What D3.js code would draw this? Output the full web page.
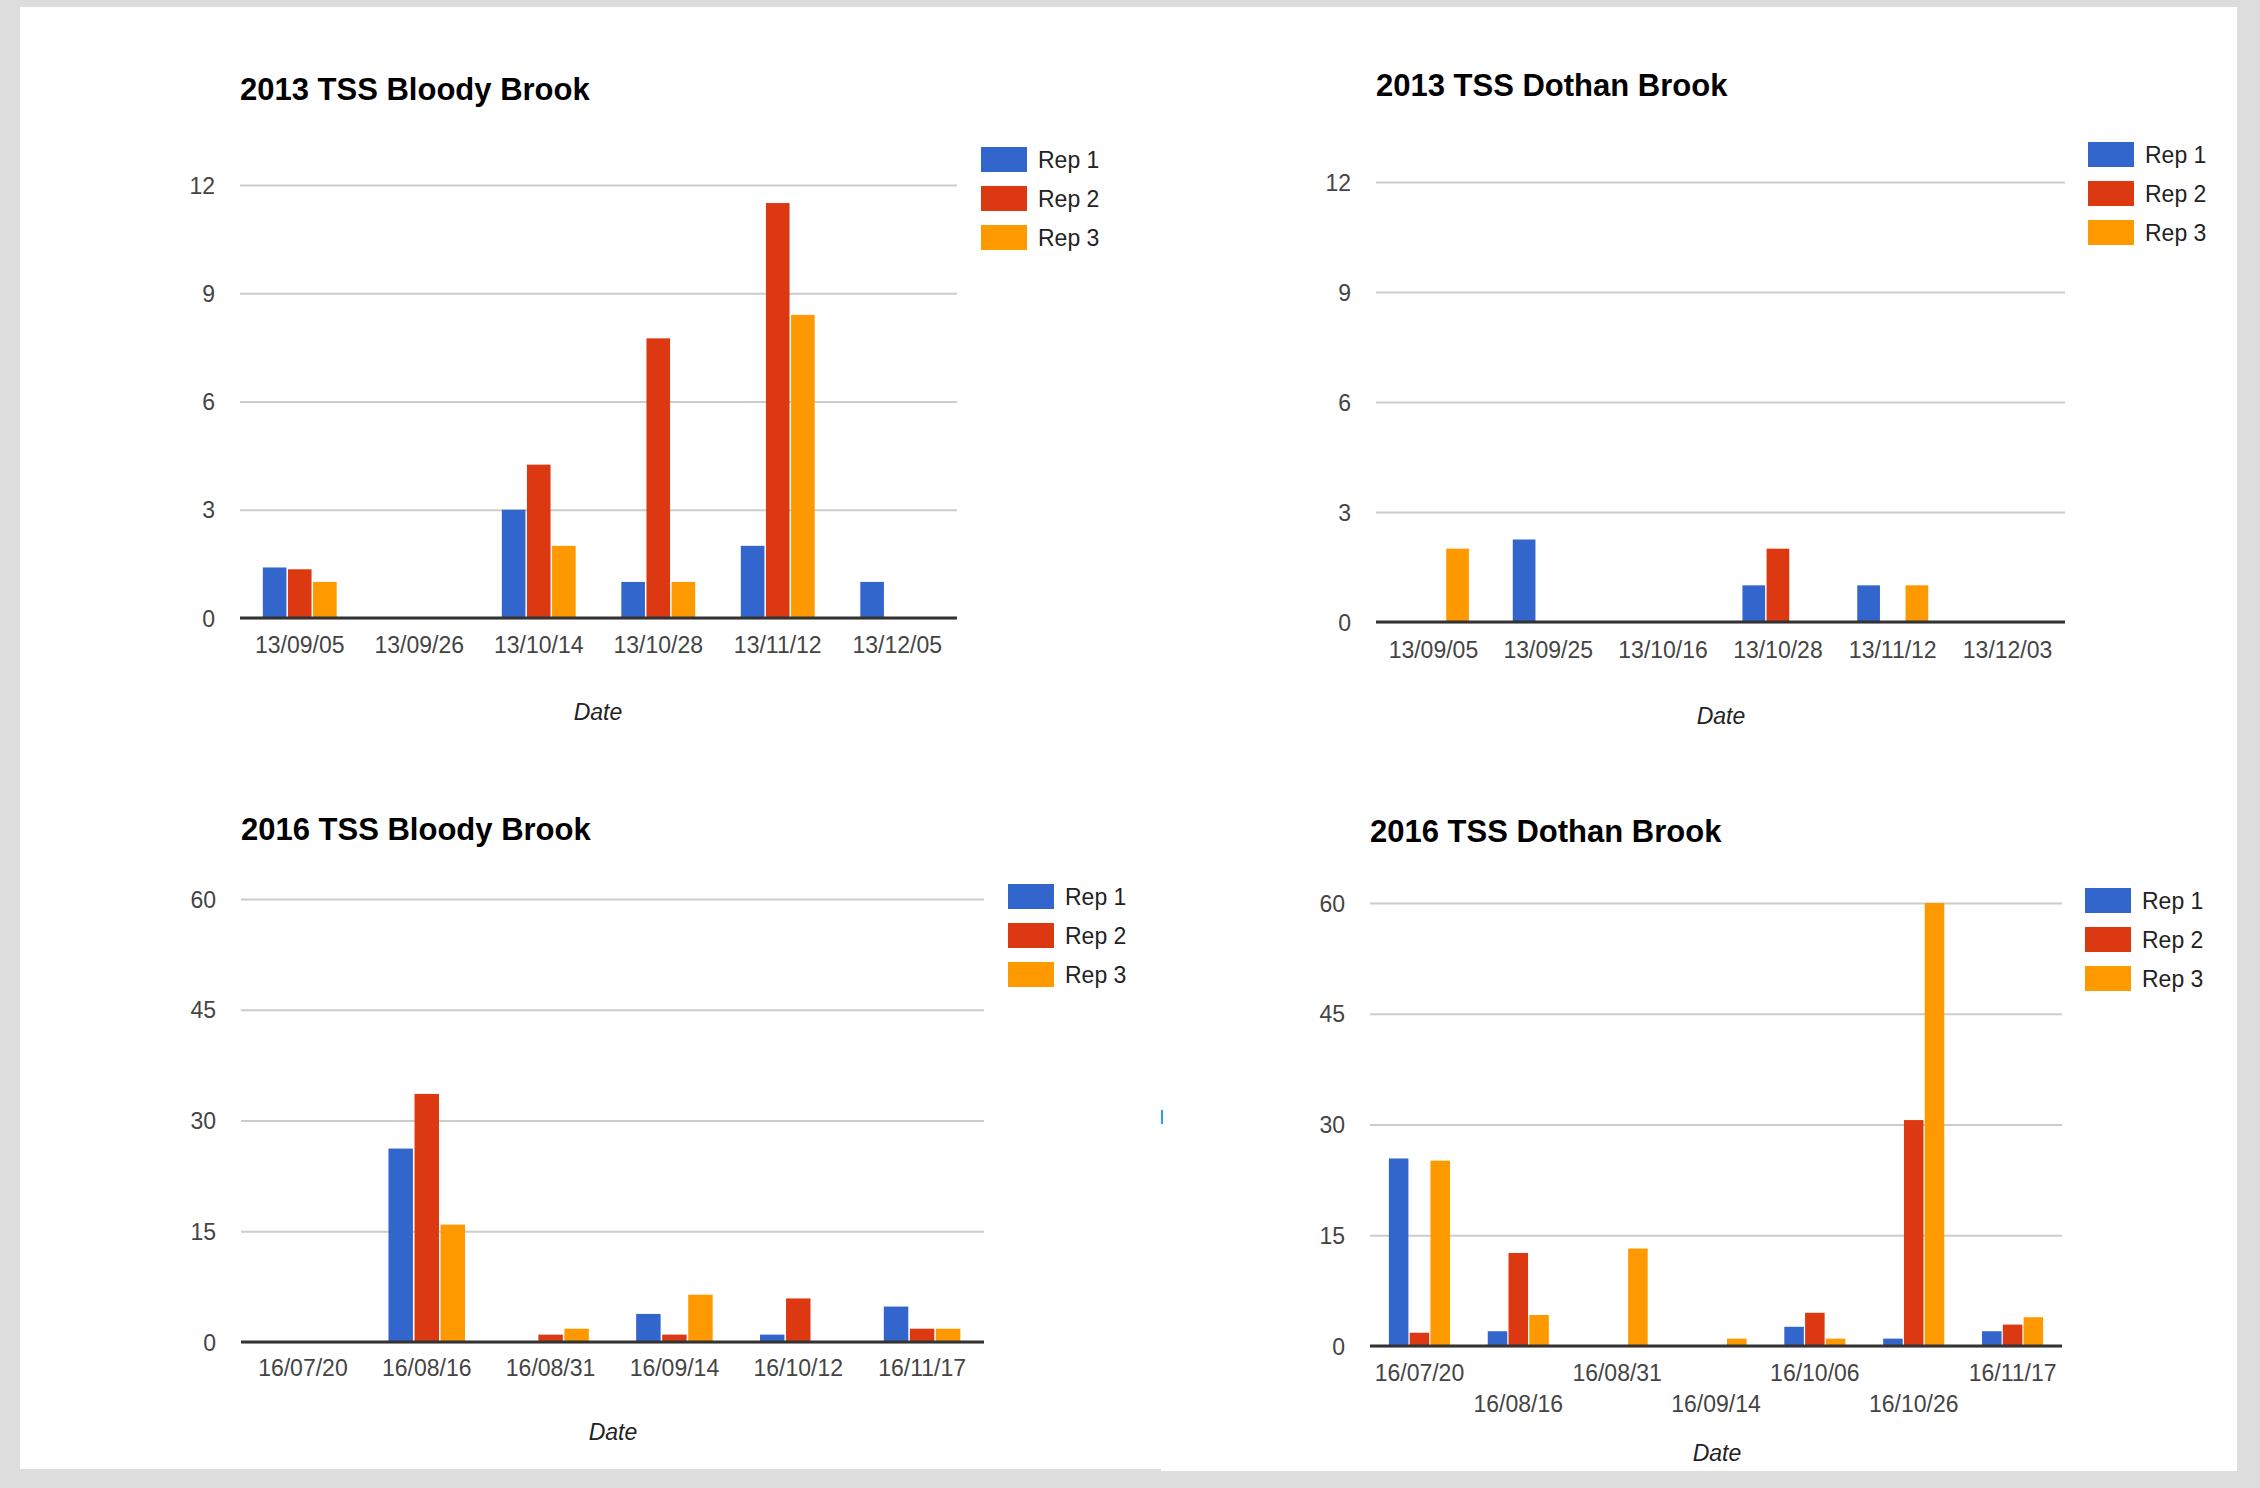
<!DOCTYPE html>
<meta charset="utf-8">
<style>
    body { margin: 0; background: #dddddd; }
    text { font-family: Arial, "Liberation Sans", sans-serif; }
    .title { font-size: 31px; font-weight: bold; fill: #000; }
    .tick text { font-size: 23px; fill: #444; }
    .legend text { font-size: 23px; fill: #222; }
    .axis-title { font-size: 23px; font-style: italic; fill: #222; }
</style>

<svg width="2260" height="1488"></svg>

<script src="https://d3js.org/d3.v7.min.js"></script>

<script>
    var repNames = ["Rep 1", "Rep 2", "Rep 3"];
    var repColors = ["#3366cc", "#dc3912", "#ff9900"];

    // 2013 Bloody Brook
    var bloody2013Dates = ["13/09/05", "13/09/26", "13/10/14", "13/10/28", "13/11/12", "13/12/05"];
    var bloody2013Rep1 = [1.4, null, 3.0, 1.0, 2.0, 1.0];
    var bloody2013Rep2 = [1.35, null, 4.25, 7.75, 11.5, null];
    var bloody2013Rep3 = [1.0, null, 2.0, 1.0, 8.4, null];

    // 2013 Dothan Brook
    var dothan2013Dates = ["13/09/05", "13/09/25", "13/10/16", "13/10/28", "13/11/12", "13/12/03"];
    var dothan2013Rep1 = [null, 2.25, null, 1.0, 1.0, null];
    var dothan2013Rep2 = [null, null, null, 2.0, null, null];
    var dothan2013Rep3 = [2.0, null, null, null, 1.0, null];

    // 2016 Bloody Brook
    var bloody2016Dates = ["16/07/20", "16/08/16", "16/08/31", "16/09/14", "16/10/12", "16/11/17"];
    var bloody2016Rep1 = [null, 26.2, null, 3.8, 1.0, 4.8];
    var bloody2016Rep2 = [null, 33.6, 1.0, 1.0, 5.9, 1.8];
    var bloody2016Rep3 = [null, 15.9, 1.8, 6.4, null, 1.8];

    // 2016 Dothan Brook
    var dothan2016Dates = ["16/07/20", "16/08/16", "16/08/31", "16/09/14", "16/10/06", "16/10/26", "16/11/17"];
    var dothan2016Rep1 = [25.4, 2.0, null, null, 2.6, 1.0, 2.0];
    var dothan2016Rep2 = [1.8, 12.6, null, null, 4.5, 30.6, 2.9];
    var dothan2016Rep3 = [25.1, 4.2, 13.2, 1.0, 1.0, 60.0, 3.9];

    var ticks2013 = [0, 3, 6, 9, 12];
    var ticks2016 = [0, 15, 30, 45, 60];

    var svg = d3.select("svg");

    // white panels
    svg.append("rect").attr("x", 20).attr("y", 7).attr("width", 1141).attr("height", 1462).attr("fill", "#fff");
    svg.append("rect").attr("x", 1161).attr("y", 7).attr("width", 1076).attr("height", 1464).attr("fill", "#fff");
    // stray cursor mark in the screenshot
    svg.append("rect").attr("x", 1161).attr("y", 1110).attr("width", 2).attr("height", 14).attr("fill", "#2a9df4");

    var charts = [
        {title: "2013 TSS Bloody Brook", dates: bloody2013Dates, reps: [bloody2013Rep1, bloody2013Rep2, bloody2013Rep3],
            ticks: ticks2013, left: 240, right: 957, top: 185, bottom: 618, titleY: 100,
            labelY: [645], dateX: 598, dateY: 712, legendX: 981, legendY: 147},
        {title: "2013 TSS Dothan Brook", dates: dothan2013Dates, reps: [dothan2013Rep1, dothan2013Rep2, dothan2013Rep3],
            ticks: ticks2013, left: 1376, right: 2065, top: 182, bottom: 622, titleY: 96,
            labelY: [650], dateX: 1721, dateY: 716, legendX: 2088, legendY: 142},
        {title: "2016 TSS Bloody Brook", dates: bloody2016Dates, reps: [bloody2016Rep1, bloody2016Rep2, bloody2016Rep3],
            ticks: ticks2016, left: 241, right: 984, top: 899, bottom: 1342, titleY: 840,
            labelY: [1368], dateX: 613, dateY: 1432, legendX: 1008, legendY: 884},
        {title: "2016 TSS Dothan Brook", dates: dothan2016Dates, reps: [dothan2016Rep1, dothan2016Rep2, dothan2016Rep3],
            ticks: ticks2016, left: 1370, right: 2062, top: 903, bottom: 1346, titleY: 842,
            labelY: [1373, 1404], dateX: 1717, dateY: 1453, legendX: 2085, legendY: 888}
    ];

    charts.forEach(drawChart);

    function drawChart(c) {
        var g = svg.append("g");
        var width = c.right - c.left;

        var x0 = d3.scaleBand().domain(c.dates).range([c.left, c.right])
                .paddingInner(0.382).paddingOuter(0.191);
        var x1 = d3.scaleBand().domain(d3.range(c.reps.length)).range([0, x0.bandwidth()])
                .paddingInner(0.06);
        var y = d3.scaleLinear().domain([0, d3.max(c.ticks)]).range([c.bottom, c.top]);

        g.append("text").attr("class", "title")
                .attr("x", c.left).attr("y", c.titleY)
                .text(c.title);

        // gridlines + y labels
        var yAxis = g.append("g")
                .attr("transform", "translate(" + c.left + ",0)")
                .call(d3.axisLeft(y).tickValues(c.ticks).tickSize(-width).tickPadding(25));
        yAxis.select(".domain").remove();
        yAxis.selectAll(".tick line").attr("stroke", "#cccccc").attr("stroke-width", 2);
        yAxis.selectAll(".tick text").attr("dy", "0.35em");

        // bars
        c.reps.forEach(function (values, s) {
            g.append("g").selectAll("rect")
                    .data(values.map(function (v, i) { return {date: c.dates[i], value: v}; })
                            .filter(function (d) { return d.value != null; }))
                    .enter().append("rect")
                    .attr("x", function (d) { return x0(d.date) + x1(s); })
                    .attr("y", function (d) { return y(d.value); })
                    .attr("width", x1.bandwidth())
                    .attr("height", function (d) { return y(0) - y(d.value); })
                    .attr("fill", repColors[s]);
        });

        // baseline
        g.append("line")
                .attr("x1", c.left).attr("x2", c.right)
                .attr("y1", y(0)).attr("y2", y(0))
                .attr("stroke", "#333").attr("stroke-width", 3);

        // x labels
        var xAxis = g.append("g")
                .call(d3.axisBottom(x0).tickSize(0));
        xAxis.select(".domain").remove();
        xAxis.selectAll(".tick text")
                .attr("y", function (d, i) { return c.labelY[i % c.labelY.length]; })
                .attr("dy", "0.35em");

        g.append("text").attr("class", "axis-title")
                .attr("x", c.dateX).attr("y", c.dateY).attr("dy", "0.35em")
                .attr("text-anchor", "middle")
                .text("Date");

        // legend
        var legend = g.append("g").attr("class", "legend")
                .selectAll("g")
                .data(repNames)
                .enter().append("g")
                .attr("transform", function (d, i) {
                    return "translate(" + c.legendX + "," + (c.legendY + i * 39) + ")";
                });
        legend.append("rect")
                .attr("width", 46).attr("height", 25)
                .attr("fill", function (d, i) { return repColors[i]; });
        legend.append("text")
                .attr("x", 57).attr("y", 12.5).attr("dy", "0.35em")
                .text(function (d) { return d; });
    }
</script>
